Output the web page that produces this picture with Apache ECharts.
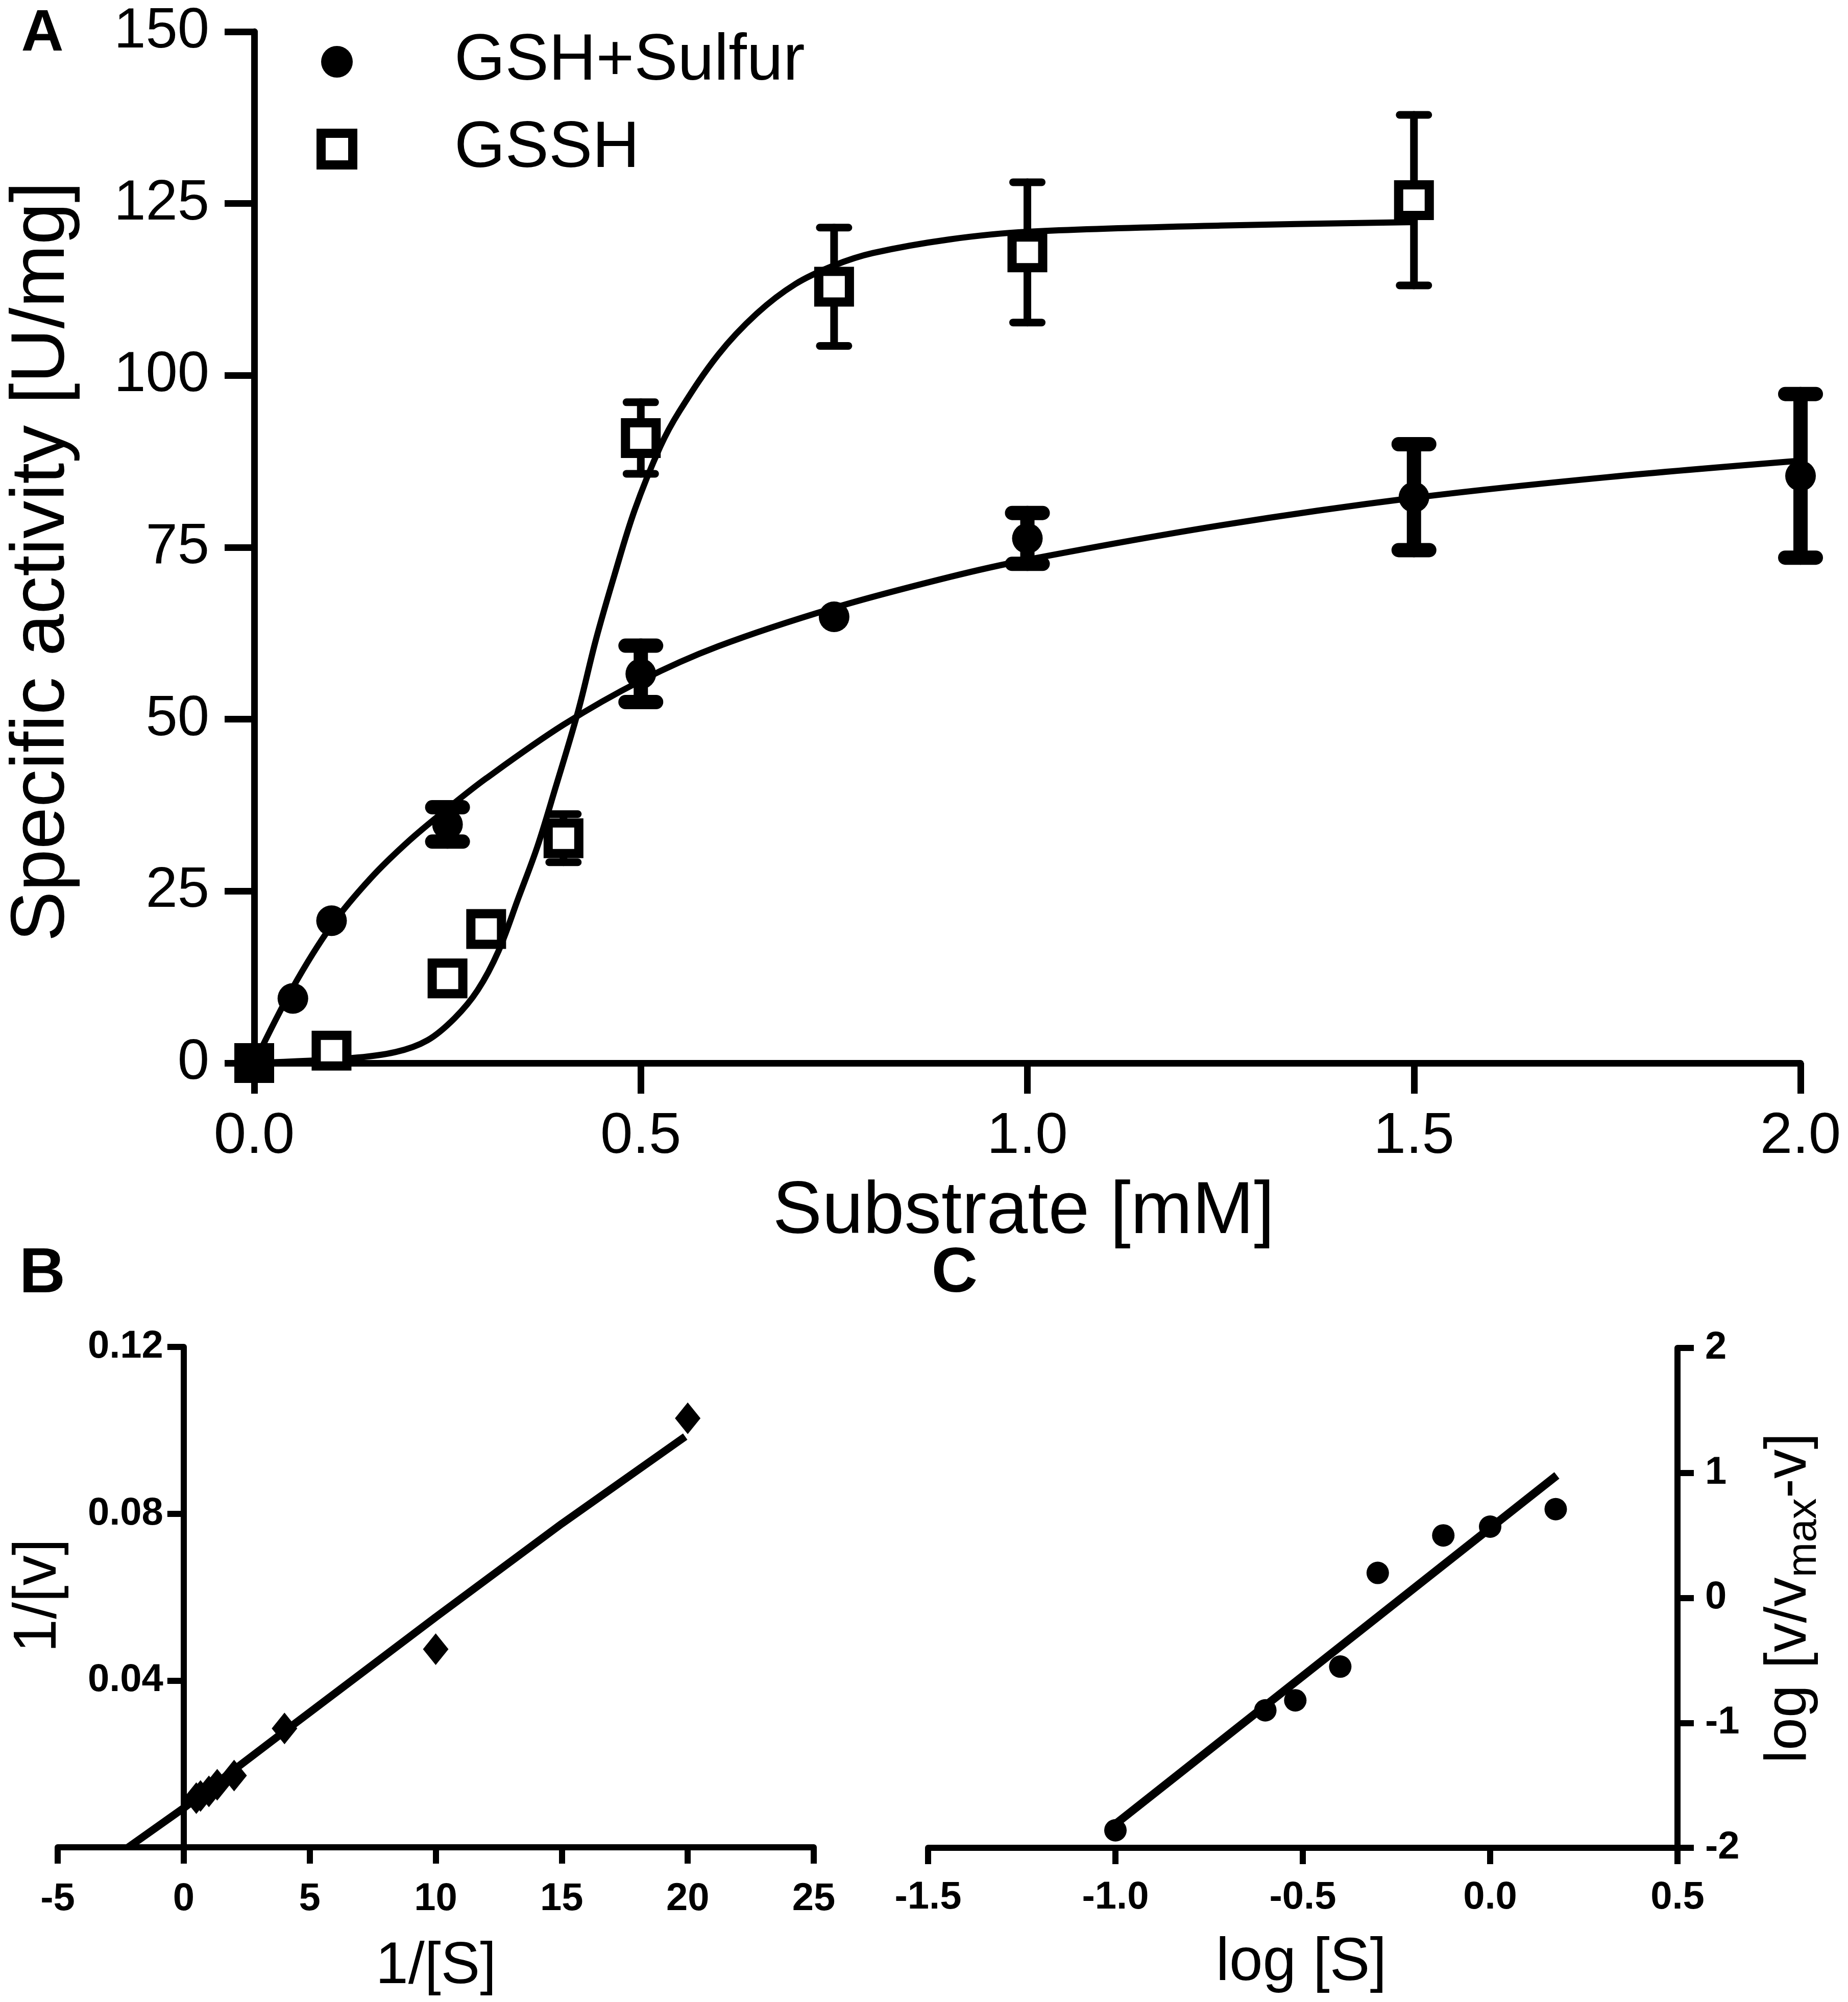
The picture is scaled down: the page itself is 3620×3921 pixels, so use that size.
<!DOCTYPE html>
<html>
<head>
<meta charset="UTF-8">
<title>Specific activity</title>
<script src="https://cdn.jsdelivr.net/npm/echarts@6/dist/echarts.min.js"></script>
<style>
    html, body { margin: 0; padding: 0; background: #fff; }
    #main { width: 3620px; height: 3921px; }
</style>
</head>
<body>
<div id="main"></div>
<script>
    // panel A - measured activity (mean, error)
    var gshX = [0, 0.05, 0.1, 0.25, 0.5, 0.75, 1.0, 1.5, 2.0];
    var gshY = [0, 9.4, 20.7, 34.7, 56.6, 64.9, 76.3, 82.3, 85.4];
    var gshErr = [0, 0, 0, 2.5, 4.1, 0, 3.7, 7.7, 11.9];
    var gsshX = [0, 0.1, 0.25, 0.3, 0.4, 0.5, 0.75, 1.0, 1.5];
    var gsshY = [0, 1.8, 12.3, 19.5, 32.7, 90.9, 112.9, 117.9, 125.5];
    var gsshErr = [0, 0, 0, 0, 3.5, 5.2, 8.6, 10.2, 12.4];

    // panel A - fitted curves
    var gshFitX = [0, 0.05, 0.1, 0.15, 0.2, 0.25, 0.3, 0.4, 0.5, 0.6, 0.75, 0.9, 1.0, 1.25, 1.5, 1.75, 2.0];
    var gshFitY = [0, 11.0, 20.0, 26.8, 32.3, 37.0, 41.4, 49.2, 55.6, 60.6, 66.2, 70.7, 73.2, 78.2, 82.2, 85.2, 87.6];
    var gsshFitX = [0, 0.124, 0.183, 0.224, 0.259, 0.289, 0.316, 0.342, 0.366, 0.389, 0.419, 0.442, 0.466, 0.492, 0.525, 0.55, 0.6, 0.65, 0.7, 0.75, 0.8, 0.9, 1.0, 1.25, 1.5];
    var gsshFitY = [0, 0.7, 1.6, 3.3, 6.5, 10.6, 16.3, 24.1, 31.4, 39.8, 51.2, 61.6, 71.0, 80.4, 89.6, 94.8, 103.0, 109.0, 113.3, 116.0, 117.8, 119.8, 120.9, 121.8, 122.3];

    // panel B - Lineweaver-Burk
    var lbX = [20, 10, 4, 2, 1.33, 1, 0.667, 0.5];
    var lbY = [0.1029, 0.0475, 0.0285, 0.0172, 0.0150, 0.0134, 0.0123, 0.0118];
    var lbFitX = [-2.2, 0, 4, 10, 15, 19.9];
    var lbFitY = [0, 0.0094, 0.0278, 0.0552, 0.0776, 0.0985];

    // panel C - Hill plot
    var hillX = [-1.0, -0.6, -0.52, -0.4, -0.3, -0.125, 0.0, 0.175];
    var hillY = [-1.86, -0.90, -0.82, -0.55, 0.20, 0.50, 0.57, 0.71];
    var hillFitX = [-1.0, 0.178];
    var hillFitY = [-1.81, 0.98];

    var FONT = '"Liberation Sans", Arial, Helvetica, sans-serif';

    function pairs(xs, ys) {
        return xs.map(function (x, i) { return [x, ys[i]]; });
    }
    function triples(xs, ys, es) {
        var out = [];
        xs.forEach(function (x, i) { if (es[i] > 0) out.push([x, ys[i], es[i]]); });
        return out;
    }

    function errorBars(data, capHalf, width) {
        return {
            type: 'custom',
            xAxisIndex: 0,
            yAxisIndex: 0,
            z: 2,
            silent: true,
            data: data,
            renderItem: function (params, api) {
                var x = api.value(0), y = api.value(1), e = api.value(2);
                var hi = api.coord([x, y + e]);
                var lo = api.coord([x, y - e]);
                var st = { stroke: '#000', lineWidth: width, lineCap: 'round' };
                return {
                    type: 'group',
                    children: [
                        { type: 'line', shape: { x1: hi[0], y1: hi[1], x2: lo[0], y2: lo[1] }, style: st },
                        { type: 'line', shape: { x1: hi[0] - capHalf, y1: hi[1], x2: hi[0] + capHalf, y2: hi[1] }, style: st },
                        { type: 'line', shape: { x1: lo[0] - capHalf, y1: lo[1], x2: lo[0] + capHalf, y2: lo[1] }, style: st }
                    ]
                };
            }
        };
    }

    function axisA(extra) {
        return Object.assign({
            type: 'value',
            gridIndex: 0,
            splitLine: { show: false },
            axisLine: { lineStyle: { color: '#000', width: 13 } },
            axisTick: { length: 60, lineStyle: { color: '#000', width: 13 } }
        }, extra);
    }
    function axisBC(extra) {
        return Object.assign({
            type: 'value',
            splitLine: { show: false },
            axisLine: { onZero: false, lineStyle: { color: '#000', width: 12 } },
            axisTick: { length: 32, lineStyle: { color: '#000', width: 12 } }
        }, extra);
    }
    var boldLabel = { fontSize: 76, fontWeight: 'bold', color: '#000', fontFamily: FONT };

    // panel B: y axis sits at 1/[S] = 0, which is 5 of the 30 x-units in from the grid's left edge
    var gridB = { left: 113, top: 2638, width: 1481, height: 980, outerBoundsMode: 'none' };
    var yOffsetB = -gridB.width * 5 / 30;

    var chart = echarts.init(document.getElementById('main'));
    var option = {
        animation: false,
        backgroundColor: '#fff',
        grid: [
            { left: 498, top: 62, width: 3029, height: 2020, outerBoundsMode: 'none' },
            gridB,
            { left: 1818, top: 2640, width: 1468, height: 979, outerBoundsMode: 'none' }
        ],
        xAxis: [
            axisA({
                min: 0, max: 2, interval: 0.5,
                axisLabel: { margin: 88, fontSize: 114, color: '#000', fontFamily: FONT,
                    formatter: function (v) { return v.toFixed(1); } }
            }),
            axisBC({
                gridIndex: 1, min: -5, max: 25, interval: 5,
                axisLabel: Object.assign({ margin: 64 }, boldLabel)
            }),
            axisBC({
                gridIndex: 2, min: -1.5, max: 0.5, interval: 0.5,
                axisLabel: Object.assign({ margin: 60, formatter: function (v) { return v.toFixed(1); } }, boldLabel)
            })
        ],
        yAxis: [
            axisA({
                min: 0, max: 150, interval: 25,
                axisTick: { length: 58, lineStyle: { color: '#000', width: 13 } },
                axisLabel: { margin: 88, fontSize: 112, color: '#000', fontFamily: FONT }
            }),
            axisBC({
                gridIndex: 1, min: 0, max: 0.12, interval: 0.04, offset: yOffsetB,
                axisLabel: Object.assign({ margin: 40,
                    formatter: function (v) { return v === 0 ? '' : v.toFixed(2); } }, boldLabel)
            }),
            axisBC({
                gridIndex: 2, min: -2, max: 2, interval: 1, position: 'right',
                axisLabel: Object.assign({ margin: 54 }, boldLabel)
            })
        ],
        legend: {
            orient: 'vertical',
            left: 615,
            top: 52,
            itemWidth: 62,
            itemHeight: 62,
            itemGap: 43,
            selectedMode: false,
            textStyle: { fontSize: 128, lineHeight: 128, color: '#000', fontFamily: FONT, padding: [0, 0, 0, 194] },
            data: [
                { name: 'GSH+Sulfur', icon: 'circle', itemStyle: { color: '#000', borderWidth: 0, opacity: 1 } },
                { name: 'GSSH', icon: 'rect', itemStyle: { color: '#fff', borderColor: '#000', borderWidth: 18, opacity: 1 } }
            ]
        },
        series: [
            errorBars(triples(gsshX, gsshY, gsshErr), 28, 15),
            errorBars(triples(gshX, gshY, gshErr), 30, 28),
            {
                type: 'line', xAxisIndex: 0, yAxisIndex: 0, z: 3, silent: true,
                data: pairs(gsshFitX, gsshFitY), showSymbol: false, symbol: 'none',
                smooth: 0.35,
                lineStyle: { color: '#000', width: 12 }
            },
            {
                type: 'line', xAxisIndex: 0, yAxisIndex: 0, z: 3, silent: true,
                data: pairs(gshFitX, gshFitY), showSymbol: false, symbol: 'none',
                smooth: 0.35,
                lineStyle: { color: '#000', width: 12 }
            },
            {
                name: 'GSSH', type: 'scatter', xAxisIndex: 0, yAxisIndex: 0, z: 4,
                data: pairs(gsshX, gsshY), symbol: 'rect', symbolSize: 60,
                itemStyle: { color: '#fff', borderColor: '#000', borderWidth: 18, opacity: 1 },
                emphasis: { disabled: true }
            },
            {
                name: 'GSH+Sulfur', type: 'scatter', xAxisIndex: 0, yAxisIndex: 0, z: 5,
                data: pairs(gshX, gshY), symbol: 'circle', symbolSize: 60,
                itemStyle: { color: '#000', opacity: 1 },
                emphasis: { disabled: true }
            },
            {
                type: 'line', xAxisIndex: 1, yAxisIndex: 1, z: 3, silent: true,
                data: pairs(lbFitX, lbFitY), showSymbol: false, symbol: 'none',
                lineStyle: { color: '#000', width: 15 }
            },
            {
                type: 'scatter', xAxisIndex: 1, yAxisIndex: 1, z: 4,
                data: pairs(lbX, lbY), symbol: 'diamond', symbolSize: [50, 62],
                itemStyle: { color: '#000', opacity: 1 },
                emphasis: { disabled: true }
            },
            {
                type: 'line', xAxisIndex: 2, yAxisIndex: 2, z: 3, silent: true,
                data: pairs(hillFitX, hillFitY), showSymbol: false, symbol: 'none',
                lineStyle: { color: '#000', width: 16 }
            },
            {
                type: 'scatter', xAxisIndex: 2, yAxisIndex: 2, z: 4,
                data: pairs(hillX, hillY), symbol: 'circle', symbolSize: 44,
                itemStyle: { color: '#000', opacity: 1 },
                emphasis: { disabled: true }
            }
        ],
        graphic: [
            { type: 'text', x: 83, y: 67, style: { text: 'A', font: 'bold 115px ' + FONT, fill: '#000',
                align: 'center', verticalAlign: 'middle', textAlign: 'center', textVerticalAlign: 'middle' } },
            { type: 'text', x: 83, y: 2497, style: { text: 'B', font: 'bold 125px ' + FONT, fill: '#000',
                align: 'center', verticalAlign: 'middle', textAlign: 'center', textVerticalAlign: 'middle' } },
            { type: 'text', x: 1870, y: 2496, style: { text: 'C', font: 'bold 125px ' + FONT, fill: '#000',
                align: 'center', verticalAlign: 'middle', textAlign: 'center', textVerticalAlign: 'middle' } },
            { type: 'text', x: 2005, y: 2375, style: { text: 'Substrate [mM]', font: '145px ' + FONT, fill: '#000',
                align: 'center', verticalAlign: 'middle', textAlign: 'center', textVerticalAlign: 'middle' } },
            { type: 'text', x: 84, y: 1100, rotation: Math.PI / 2, style: { text: 'Specific activity [U/mg]', font: '148px ' + FONT, fill: '#000',
                align: 'center', verticalAlign: 'middle', textAlign: 'center', textVerticalAlign: 'middle' } },
            { type: 'text', x: 854, y: 3852, style: { text: '1/[S]', font: '115px ' + FONT, fill: '#000',
                align: 'center', verticalAlign: 'middle', textAlign: 'center', textVerticalAlign: 'middle' } },
            { type: 'text', x: 76, y: 3125, rotation: Math.PI / 2, style: { text: '1/[v]', font: '118px ' + FONT, fill: '#000',
                align: 'center', verticalAlign: 'middle', textAlign: 'center', textVerticalAlign: 'middle' } },
            { type: 'text', x: 2549, y: 3845, style: { text: 'log [S]', font: '118px ' + FONT, fill: '#000',
                align: 'center', verticalAlign: 'middle', textAlign: 'center', textVerticalAlign: 'middle' } },
            { type: 'text', x: 3505, y: 3130, rotation: Math.PI / 2, style: {
                text: '{a|log [v/v}{b|max}{a|-v]}',
                fill: '#000',
                align: 'center', verticalAlign: 'middle', textAlign: 'center', textVerticalAlign: 'middle',
                rich: {
                    a: { fontSize: 115, fontFamily: FONT, lineHeight: 140, fill: '#000', color: '#000' },
                    b: { fontSize: 82, fontFamily: FONT, lineHeight: 50, verticalAlign: 'bottom', fill: '#000', color: '#000' }
                }
            } }
        ]
    };
    chart.setOption(option);
</script>
</body>
</html>
